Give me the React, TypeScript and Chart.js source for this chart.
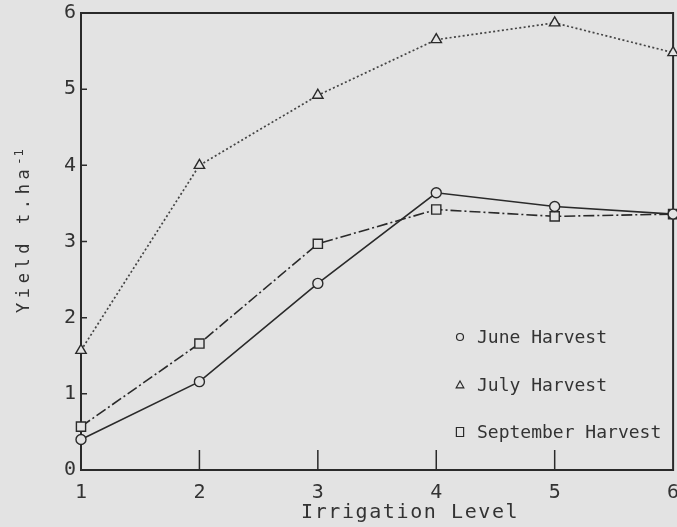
import React, { useEffect, useRef } from "react";
import { Chart, registerables } from "chart.js";

Chart.register(...registerables);

// Irrigation levels on the x axis
const levels = [1, 2, 3, 4, 5, 6];

// Yield (t/ha) per harvest
const juneHarvest = [0.4, 1.16, 2.45, 3.64, 3.46, 3.36];
const julyHarvest = [1.57, 4.0, 4.92, 5.65, 5.87, 5.48];
const septemberHarvest = [0.57, 1.66, 2.97, 3.42, 3.33, 3.36];

const seriesNames = ["June Harvest", "July Harvest", "September Harvest"];
const yTicks = [0, 1, 2, 3, 4, 5, 6];

const BG = "#e3e3e3";
const INK = "#2a2a2a";
const TEXT = "#333333";
const MONO = '"DejaVu Sans Mono", "Liberation Mono", monospace';

// The canvas runs a little past the visible frame, so the right-hand label is cut off at the edge
const CANVAS_W = 681;
const CANVAS_H = 527;

const toPoints = (vals: number[]) => vals.map((y, i) => ({ x: levels[i], y }));

// Paints the page colour behind everything
const backgroundPlugin = {
  id: "paperBackground",
  beforeDraw(chart: any) {
    const { ctx, width, height } = chart;
    ctx.save();
    ctx.fillStyle = BG;
    ctx.fillRect(0, 0, width, height);
    ctx.restore();
  },
};

// Box frame around the plot with inward tick marks
const framePlugin = {
  id: "plotFrame",
  beforeDatasetsDraw(chart: any) {
    const { ctx, chartArea } = chart;
    const { left, right, top, bottom } = chartArea;
    const xs = chart.scales.x;
    const ys = chart.scales.y;
    ctx.save();
    ctx.strokeStyle = INK;
    ctx.lineWidth = 2;
    ctx.beginPath();
    ctx.moveTo(left, top);
    ctx.lineTo(right, top);
    ctx.lineTo(right, bottom);
    ctx.lineTo(left, bottom);
    ctx.closePath();
    ctx.stroke();

    ctx.lineWidth = 1.5;
    ctx.beginPath();
    levels.slice(1, -1).forEach((v) => {
      const px = xs.getPixelForValue(v);
      ctx.moveTo(px, bottom);
      ctx.lineTo(px, bottom - 20);
    });
    yTicks.slice(1, -1).forEach((v) => {
      const py = ys.getPixelForValue(v);
      ctx.moveTo(left, py);
      ctx.lineTo(left + 6, py);
    });
    ctx.stroke();
    ctx.restore();
  },
};

function drawMarker(ctx: CanvasRenderingContext2D, style: string, x: number, y: number, r: number) {
  ctx.beginPath();
  if (style === "circle") {
    ctx.arc(x, y, r, 0, Math.PI * 2);
  } else if (style === "triangle") {
    ctx.moveTo(x, y - r);
    ctx.lineTo(x + r * 0.95, y + r * 0.7);
    ctx.lineTo(x - r * 0.95, y + r * 0.7);
    ctx.closePath();
  } else {
    ctx.rect(x - r * 0.8, y - r, r * 1.6, r * 2);
  }
  ctx.fill();
  ctx.stroke();
}

// Axis titles and the legend drawn in plotter-style lettering
const textPlugin = {
  id: "plotterText",
  afterDraw(chart: any) {
    const { ctx } = chart;
    ctx.save();
    ctx.fillStyle = TEXT;

    // x-axis title
    ctx.font = `20px ${MONO}`;
    ctx.letterSpacing = "1.6px";
    ctx.textAlign = "left";
    ctx.textBaseline = "alphabetic";
    ctx.fillText("Irrigation Level", 301, 518);

    // y-axis title, rotated, with superscript -1
    ctx.save();
    ctx.translate(29, 313);
    ctx.rotate(-Math.PI / 2);
    ctx.font = `17px ${MONO}`;
    ctx.letterSpacing = "4.6px";
    ctx.fillText("Yield t.ha", 0, 0);
    const w = ctx.measureText("Yield t.ha").width;
    ctx.font = `12px ${MONO}`;
    ctx.letterSpacing = "1px";
    ctx.fillText("-1", w, -6);
    ctx.restore();

    // legend
    ctx.letterSpacing = "0px";
    const rowsY = [337, 385, 432];
    const styles = ["circle", "triangle", "rect"];
    const radii = [3.5, 4, 4.5];
    chart.data.datasets.forEach((ds: any, i: number) => {
      const y = rowsY[i];
      ctx.save();
      ctx.strokeStyle = INK;
      ctx.fillStyle = BG;
      ctx.lineWidth = 1.2;
      drawMarker(ctx, styles[i], 460, y, radii[i]);
      ctx.restore();
      ctx.fillStyle = TEXT;
      ctx.font = `18px ${MONO}`;
      ctx.textBaseline = "middle";
      ctx.fillText(ds.label, 477, y + 1);
    });
    ctx.restore();
  },
};

export default function App() {
  const canvasRef = useRef<HTMLCanvasElement | null>(null);

  useEffect(() => {
    document.body.style.margin = "0";
    document.body.style.background = BG;
    const canvas = canvasRef.current;
    if (!canvas) return;

    const common = {
      borderColor: INK,
      pointBorderColor: INK,
      pointBackgroundColor: BG,
      pointBorderWidth: 1.4,
      borderWidth: 1.6,
      tension: 0,
      clip: false as any,
    };

    const chart = new Chart(canvas, {
      type: "line",
      data: {
        datasets: [
          {
            ...common,
            label: seriesNames[0],
            data: toPoints(juneHarvest),
            pointStyle: "circle",
            pointRadius: 5,
          },
          {
            ...common,
            label: seriesNames[1],
            data: toPoints(julyHarvest),
            pointStyle: "triangle",
            pointRadius: 6,
            borderDash: [2, 2.4],
            borderWidth: 1.7,
            borderColor: "#444444",
          },
          {
            ...common,
            label: seriesNames[2],
            data: toPoints(septemberHarvest),
            pointStyle: "rect",
            pointRadius: 6.5,
            borderDash: [11, 3, 2, 3],
          },
        ],
      },
      options: {
        responsive: false,
        animation: false,
        devicePixelRatio: 1,
        layout: { padding: { top: 13, right: 0, left: 0, bottom: 0 } },
        plugins: {
          legend: { display: false },
          tooltip: { enabled: false },
        },
        scales: {
          x: {
            type: "linear",
            min: 1,
            max: 6,
            border: { display: false },
            grid: { display: false, drawTicks: false },
            ticks: {
              stepSize: 1,
              color: TEXT,
              padding: 11,
              font: { family: MONO, size: 20 },
            },
            afterFit: (s: any) => {
              s.height = 57;
              s.paddingLeft = 0;
              s.paddingRight = 0;
            },
          },
          y: {
            type: "linear",
            min: 0,
            max: 6,
            border: { display: false },
            grid: { display: false, drawTicks: false },
            ticks: {
              stepSize: 1,
              color: TEXT,
              padding: 5,
              font: { family: MONO, size: 20 },
            },
            afterFit: (s: any) => {
              s.width = 81;
              s.paddingTop = 0;
              s.paddingBottom = 0;
            },
          },
        },
      },
      plugins: [backgroundPlugin, framePlugin, textPlugin],
    });

    return () => chart.destroy();
  }, []);

  return (
    <div
      style={{
        position: "fixed",
        left: 0,
        top: 0,
        width: 677,
        height: 527,
        overflow: "hidden",
        background: BG,
      }}
    >
      <canvas ref={canvasRef} width={CANVAS_W} height={CANVAS_H} style={{ display: "block" }} />
    </div>
  );
}
